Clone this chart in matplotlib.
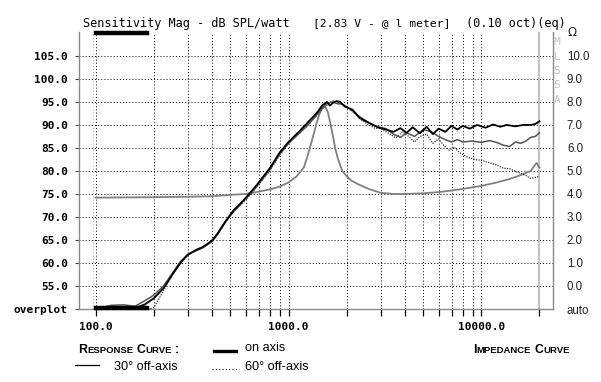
import matplotlib
matplotlib.use("Agg")
import matplotlib.pyplot as plt
import numpy as np

# response curves (Hz, dB SPL)
on_f = [100, 130, 160, 180, 200, 225, 250, 275, 300, 330, 360, 400, 430, 470, 520, 560,
        610, 680, 740, 800, 900, 1000, 1100, 1250, 1400, 1500, 1580, 1640, 1700, 1780,
        1850, 1960, 2150, 2340, 2600, 2900, 3200, 3500, 3800, 4100, 4400, 4800, 5200,
        5600, 6000, 6500, 7000, 7500, 8000, 8700, 9500, 10500, 11500, 12500, 13500,
        15000, 16500, 18000, 19000, 20000]
on_db = [50, 50.2, 50.2, 51.0, 52.3, 54.5, 57.5, 60.0, 61.8, 62.8, 63.5, 64.8, 66.5,
         69.0, 71.5, 72.8, 74.5, 76.8, 78.8, 80.6, 84.0, 86.3, 88.0, 90.4, 92.6, 94.3,
         95.0, 94.2, 94.8, 95.2, 95.0, 94.0, 93.3, 91.5, 90.5, 89.5, 89.0, 88.5, 89.3,
         88.3, 89.5, 88.2, 89.6, 88.0, 89.2, 88.5, 89.8, 89.0, 89.8, 89.2, 90.0, 89.4,
         90.1, 89.6, 90.0, 89.7, 90.0, 90.0, 90.2, 90.8]

off30_f = [100, 120, 140, 160, 180, 200, 225, 250, 275, 300, 330, 360, 400, 430, 470,
           520, 560, 610, 680, 740, 800, 900, 1000, 1100, 1250, 1400, 1500, 1600, 1700,
           1800, 1900, 2080, 2300, 2600, 2900, 3200, 3500, 3800, 4100, 4500, 5000, 5500,
           6000, 6500, 7000, 7500, 8000, 9000, 10000, 11000, 12000, 13000, 14000, 15000,
           16000, 17000, 18000, 19000, 20000]
off30_db = [50, 50.8, 50.9, 50.6, 51.8, 53.0, 55.0, 57.8, 60.3, 61.8, 62.6, 63.3, 64.6,
            66.3, 68.8, 71.2, 72.6, 74.3, 76.5, 78.5, 80.4, 83.6, 86.0, 87.6, 89.8, 92.2,
            93.8, 94.8, 95.0, 94.6, 94.5, 93.5, 92.0, 90.5, 89.6, 89.2, 88.0, 87.3, 88.3,
            87.5, 89.0, 88.5, 87.5, 86.8, 86.3, 86.8, 86.3, 86.5, 86.2, 86.6, 86.2, 85.6,
            85.3, 86.3, 86.0, 86.5, 87.3, 87.5, 88.3]

off60_f = [100, 190, 200, 215, 235, 260, 290, 320, 360, 400, 450, 500, 560, 610, 700,
           800, 900, 1000, 1100, 1250, 1400, 1500, 1600, 1700, 1800, 1900, 2000, 2200,
           2400, 2600, 2800, 3000, 3300, 3600, 3900, 4200, 4500, 4800, 5200, 5600, 6000,
           6400, 6800, 7200, 7800, 8500, 9200, 10000, 11000, 12000, 13000, 14000, 15000,
           16000, 17000, 18000, 19000, 20000]
off60_db = [50, 50, 50.3, 52.5, 55.5, 58.5, 61.0, 62.5, 63.5, 64.5, 67.5, 70.5, 72.5,
            74.0, 77.0, 80.0, 83.5, 86.0, 87.8, 89.8, 92.0, 93.5, 94.5, 95.2, 95.0, 94.5,
            94.0, 92.5, 91.0, 90.0, 89.3, 89.2, 88.2, 87.2, 88.5, 87.5, 86.3, 87.5, 88.0,
            86.0, 87.0, 85.5, 84.5, 85.2, 83.8, 83.0, 82.5, 82.3, 81.8, 81.3, 80.6, 80.5,
            79.9, 79.5, 79.0, 78.4, 78.6, 78.8]

# impedance curve (Hz, ohm)
imp_f = [100, 200, 300, 400, 500, 600, 700, 800, 900, 1000, 1100, 1200, 1250, 1300,
         1350, 1400, 1450, 1500, 1550, 1600, 1650, 1700, 1750, 1800, 1900, 2000, 2100,
         2300, 2600, 3000, 3500, 4000, 5000, 6000, 7000, 8000, 10000, 12000, 14000,
         16000, 18000, 19300, 20000]
imp_ohm = [3.84, 3.86, 3.88, 3.9, 3.96, 4.0, 4.1, 4.2, 4.32, 4.5, 4.76, 5.15, 5.6, 6.1,
           6.6, 7.1, 7.5, 7.75, 7.8, 7.55, 7.05, 6.5, 5.95, 5.55, 5.0, 4.78, 4.6, 4.42,
           4.22, 4.05, 4.0, 4.0, 4.03, 4.08, 4.15, 4.22, 4.35, 4.5, 4.65, 4.82, 5.0,
           5.35, 5.15]

db_ticks = [55, 60, 65, 70, 75, 80, 85, 90, 95, 100, 105]
ohm_ticks = [0, 1, 2, 3, 4, 5, 6, 7, 8, 9, 10]
x_major = [100, 1000, 10000]
x_major_labels = ["100.0", "1000.0", "10000.0"]
x_minor = [200, 300, 400, 500, 600, 700, 800, 900,
           2000, 3000, 4000, 5000, 6000, 7000, 8000, 9000, 20000]

mono = "DejaVu Sans Mono"
sans = "Liberation Sans"
ylo, yhi = 50, 110.2
xlo, xhi = 82, 23500

fig = plt.figure(figsize=(6.01, 3.82), dpi=100)
ax = fig.add_axes([79 / 601, 73 / 382, 474 / 601, 277 / 382])
ax.set_xscale("log")
ax.set_xlim(xlo, xhi)
ax.set_ylim(ylo, yhi)

dot = (0, (1, 2.2))
for f in x_major + x_minor[:-1]:
    ax.axvline(f, color="black", lw=0.7, ls=dot, zorder=1)
ax.axvline(97, color="#aaaaaa", lw=0.7, ls=dot, zorder=1)
for d in db_ticks:
    ax.axhline(d, color="black", lw=0.7, ls=dot, zorder=1)
ax.axvline(20000, color="#c4c4c4", lw=1.6, zorder=1)

ax.plot(imp_f, [(o * 5 + 55) for o in imp_ohm], color="#808080", lw=1.3, zorder=2)
ax.plot(off60_f, off60_db, color="#333333", lw=0.9, ls=(0, (1, 1)), zorder=3)
ax.plot(off30_f, off30_db, color="#555555", lw=1.1, zorder=3)
ax.plot(on_f, on_db, color="black", lw=1.3, zorder=4)

# thick markers at top and bottom
ax.plot([100, 185], [yhi - 0.3, yhi - 0.3], color="black", lw=3.2, clip_on=False, zorder=5)
ax.plot([100, 185], [ylo + 0.3, ylo + 0.3], color="black", lw=3.2, clip_on=False, zorder=5)

for s in ["left", "bottom", "right"]:
    ax.spines[s].set_color("#8a8a8a")
    ax.spines[s].set_linewidth(1.0)
ax.spines["top"].set_visible(False)

ax.set_xticks(x_major)
ax.set_xticklabels(x_major_labels, fontfamily=mono, fontweight="bold", fontsize=8)
ax.set_xticks(x_minor, minor=True)
ax.tick_params(axis="x", which="both", direction="out", length=5, width=0.9,
               color="black", pad=4)
ax.set_yticks(db_ticks + [ylo])
ax.set_yticklabels(["%.1f" % d for d in db_ticks] + ["overplot"],
                   fontfamily=mono, fontweight="bold", fontsize=8)
ax.tick_params(axis="y", direction="out", length=3, width=0.8, color="#555555", pad=5)

# right impedance scale
ax2 = ax.twinx()
ax2.set_ylim((ylo - 55) / 5, (yhi - 55) / 5)
ax2.set_yticks(ohm_ticks + [-1])
ax2.set_yticklabels(["%.1f" % o for o in ohm_ticks] + ["auto"], fontfamily=sans,
                    fontsize=8.3, color="#222222")
ax2.tick_params(axis="y", length=0, pad=10)
for s in ax2.spines.values():
    s.set_visible(False)
fig.text(572 / 601, 1 - 33 / 382, "Ω", fontfamily="DejaVu Sans", fontsize=8.5,
         ha="center", va="center", color="#222222")
for i, ch in enumerate("MLSSA"):
    fig.text(557 / 601, 1 - (42 + i * 14.5) / 382, ch, fontfamily=mono, fontsize=8,
             color="#c4c4c4", ha="center", va="center")

# title line
fig.text(83 / 601, 1 - 23 / 382, "Sensitivity Mag - dB SPL/watt", fontfamily=mono,
         fontsize=8.6, va="center")
fig.text(313 / 601, 1 - 23 / 382, "[2.83 V - @ l meter]", fontfamily=mono,
         fontsize=8.2, va="center")
fig.text(466 / 601, 1 - 23 / 382, "(0.10 oct)(eq)", fontfamily=mono,
         fontsize=8.6, va="center")

# legend
renderer = fig.canvas.get_renderer()


def small_caps(x_px, y_px, text, big=8.8, small=6.8):
    x = x_px
    words = text.split(" ")
    for w in words:
        parts = [(w[0], big), (w[1:], small)] if len(w) > 1 else [(w, big)]
        for t, size in parts:
            if not t:
                continue
            txt = fig.text(x / 601, 1 - y_px / 382, t, fontfamily=sans, fontweight="bold",
                           fontsize=size, va="baseline")
            x += txt.get_window_extent(renderer).width
        x += 3.5


small_caps(78, 353, "RESPONSE CURVE :")
small_caps(473, 353, "IMPEDANCE CURVE")
fig.lines.append(plt.Line2D([214 / 601, 236 / 601], [1 - 351 / 382] * 2, color="black",
                            lw=2.4, transform=fig.transFigure))
fig.text(245 / 601, 1 - 348 / 382, "on axis", fontfamily=sans, fontsize=9.2, va="center")
fig.lines.append(plt.Line2D([75 / 601, 99 / 601], [1 - 365 / 382] * 2, color="black",
                            lw=0.9, transform=fig.transFigure))
fig.text(114 / 601, 1 - 367 / 382, "30° off-axis", fontfamily=sans, fontsize=9.2,
         va="center")
fig.lines.append(plt.Line2D([212 / 601, 239 / 601], [1 - 369 / 382] * 2, color="black",
                            lw=0.8, ls=(0, (1, 2)), transform=fig.transFigure))
fig.text(245 / 601, 1 - 367 / 382, "60° off-axis", fontfamily=sans, fontsize=9.2,
         va="center")

fig.savefig("out.png", dpi=100)
